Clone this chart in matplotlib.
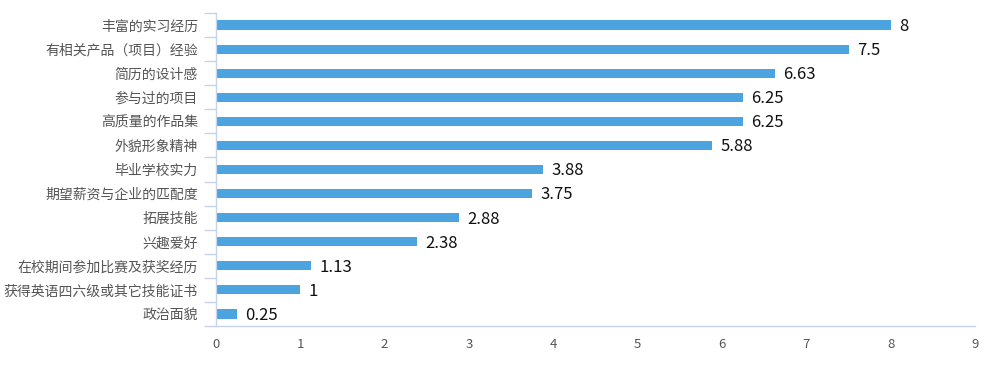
import matplotlib
matplotlib.use("Agg")
import matplotlib.pyplot as plt
import numpy as np

plt.rcParams['font.family'] = ['Noto Sans CJK SC', 'DejaVu Sans']

categories = ['丰富的实习经历', '有相关产品（项目）经验', '简历的设计感', '参与过的项目',
              '高质量的作品集', '外貌形象精神', '毕业学校实力', '期望薪资与企业的匹配度',
              '拓展技能', '兴趣爱好', '在校期间参加比赛及获奖经历', '获得英语四六级或其它技能证书',
              '政治面貌']
values = [8, 7.5, 6.63, 6.25, 6.25, 5.88, 3.88, 3.75, 2.88, 2.38, 1.13, 1, 0.25]
value_labels = ['8', '7.5', '6.63', '6.25', '6.25', '5.88', '3.88', '3.75', '2.88', '2.38', '1.13', '1', '0.25']
x_ticks = list(range(0, 10))

bar_color = '#4BA3E0'
axis_color = '#C5D4EA'

fig = plt.figure(figsize=(9.88, 3.8), dpi=100)
ax = fig.add_axes([216 / 988, 54 / 380, 759 / 988, 313 / 380])

y = np.arange(len(categories))
ax.barh(y, values, height=0.38, color=bar_color)
ax.set_ylim(len(categories) - 0.5, -0.5)
ax.set_xlim(0, 9)

for yi, v, lab in zip(y, values, value_labels):
    ax.annotate(lab, (v, yi), xytext=(6, -1), textcoords='offset points',
                ha='left', va='center', fontsize=12, color='#111111')

# category labels centered on bars, ticks at category boundaries
ax.set_yticks(y)
ax.set_yticklabels(categories, fontsize=10, color='#555555')
ax.tick_params(axis='y', which='major', length=0, pad=13)
ax.set_yticks(np.arange(-0.5, len(categories), 1), minor=True)
ax.tick_params(axis='y', which='minor', length=9, color=axis_color, width=1)

ax.set_xticks(x_ticks)
ax.set_xticklabels([str(t) for t in x_ticks], fontsize=9.5, color='#555555')
ax.tick_params(axis='x', length=0, pad=9)

for s in ['top', 'right']:
    ax.spines[s].set_visible(False)
for s in ['left', 'bottom']:
    ax.spines[s].set_color(axis_color)
    ax.spines[s].set_linewidth(1)

plt.savefig('out.png', dpi=100)
plt.close()
